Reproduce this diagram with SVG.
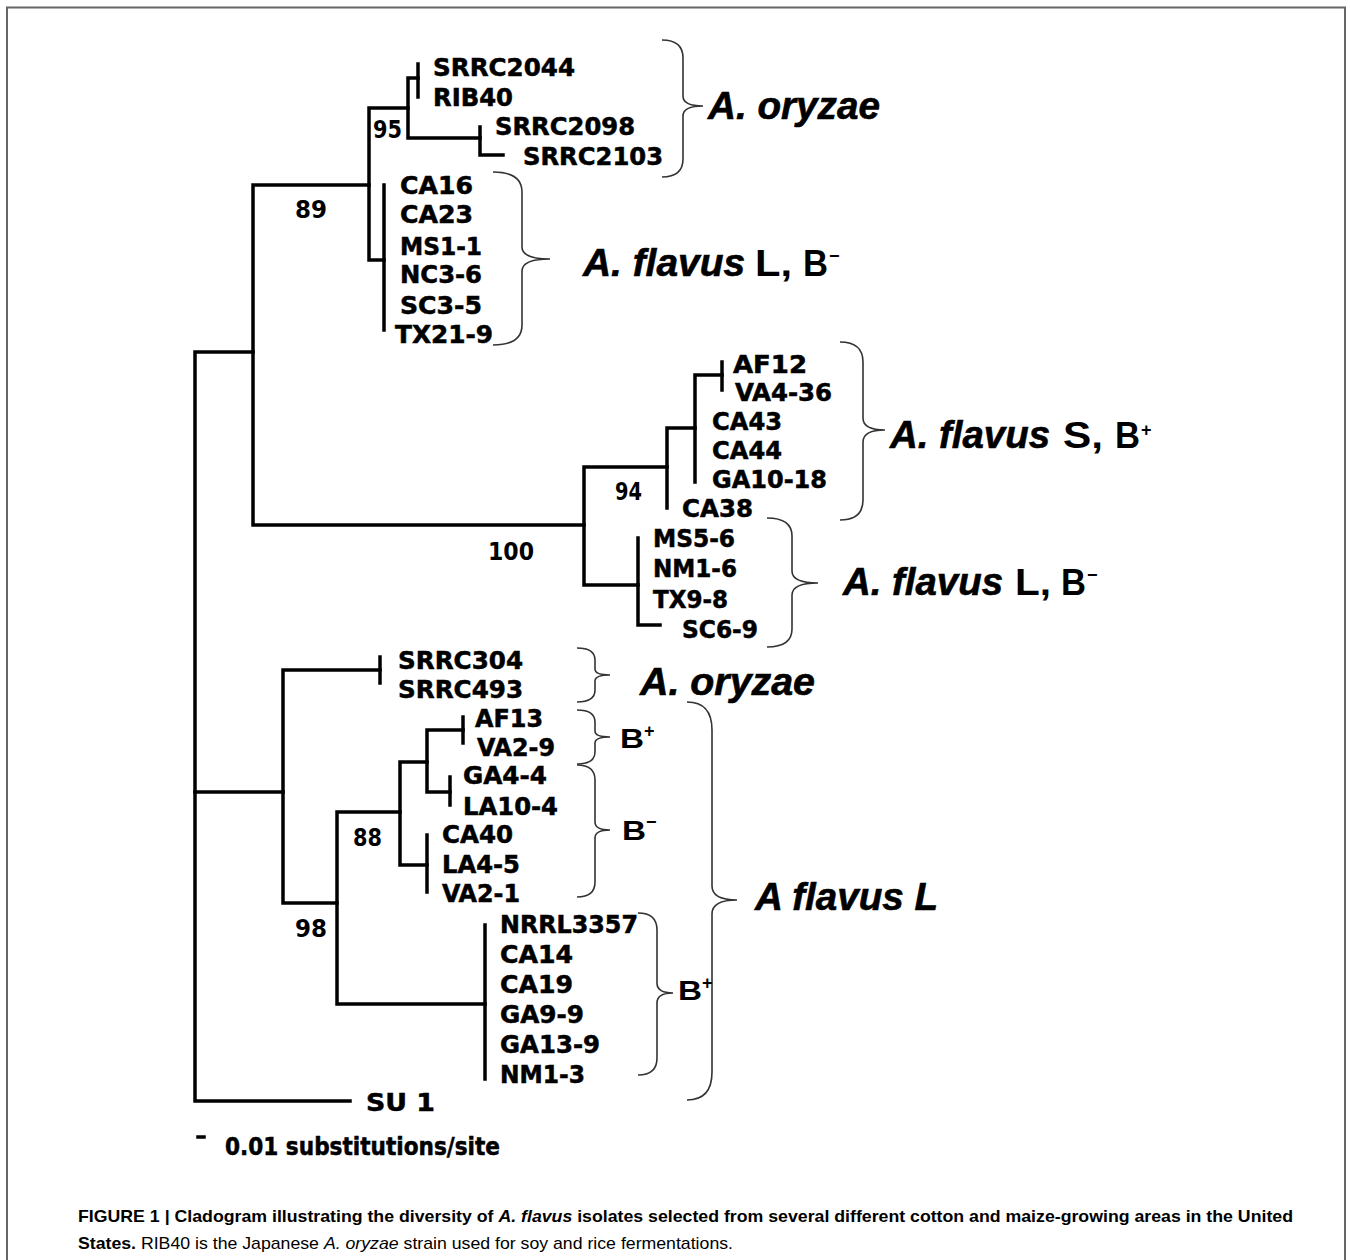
<svg xmlns="http://www.w3.org/2000/svg" width="1350" height="1260" viewBox="0 0 1350 1260">
<style>
.e{fill:none;stroke:#000;stroke-width:3.5;stroke-linejoin:miter;stroke-linecap:square}
.br{fill:none;stroke:#333;stroke-width:1.6}
.l{font-family:"Liberation Sans Narrow","DejaVu Sans Condensed","Liberation Sans",sans-serif;font-weight:bold;font-size:25px;fill:#000;stroke:#000;stroke-width:0.5}
.n{font-family:"Liberation Sans Narrow","DejaVu Sans Condensed","Liberation Sans",sans-serif;font-weight:bold;font-size:25px;fill:#000}
.big{font-family:"Liberation Sans","DejaVu Sans",sans-serif;font-weight:bold;font-style:italic;font-size:38px;fill:#000;stroke:#000;stroke-width:0.6}
.bu{font-family:"Liberation Sans","DejaVu Sans",sans-serif;font-weight:bold;font-size:36px;fill:#000}
.sup{font-family:"Liberation Sans","DejaVu Sans",sans-serif;font-weight:bold;font-size:18px;fill:#000}
.b{font-family:"Liberation Sans Narrow","Liberation Sans",sans-serif;font-weight:bold;font-size:28px;fill:#000}
.cap{font-family:"Liberation Sans Narrow","Liberation Sans",sans-serif;font-size:17px;fill:#000}
</style>
<rect width="1350" height="1260" fill="#fff"/>
<path d="M7,1262 V7.5 H1345 V1262" fill="none" stroke="#666" stroke-width="2"/>

<g id="connectors">
<path class="e" d="M253,352 H195 V1101 H350"/>
<path class="e" d="M195,792 H283"/>
<path class="e" d="M369,185 H253 V525 H584"/>
<path class="e" d="M408,108 H369 V260 H384"/>
<path class="e" d="M384,185 V330"/>
<path class="e" d="M418,78 H408 V138 H480"/>
<path class="e" d="M418,64 V97"/>
<path class="e" d="M480,127 V155 H503"/>
<path class="e" d="M667,467 H584 V585 H638"/>
<path class="e" d="M695,428 H667 V508"/>
<path class="e" d="M722,375 H695 V482"/>
<path class="e" d="M722,362 V390"/>
<path class="e" d="M638,538 V625 H660"/>
<path class="e" d="M380,670 H283 V903 H337"/>
<path class="e" d="M380,657 V683"/>
<path class="e" d="M400,812 H337 V1004 H485"/>
<path class="e" d="M427,762 H400 V865 H427"/>
<path class="e" d="M463,730 H427 V792 H450"/>
<path class="e" d="M463,717 V743"/>
<path class="e" d="M450,777 V805"/>
<path class="e" d="M427,835 V892"/>
<path class="e" d="M485,925 V1079"/>
<path class="e" d="M198,1137 H204"/>
</g>

<g id="braces">
<path class="br" d="M662,40 Q683,40 683,58 V96 Q683,106 703,106 Q683,106 683,116 V159 Q683,177 662,177"/>
<path class="br" d="M493,172 Q522,172 522,192 V247 Q522,259 550,259 Q522,259 522,271 V325 Q522,345 493,345"/>
<path class="br" d="M840,342 Q863,342 863,362 V418 Q863,430 885,430 Q863,430 863,442 V500 Q863,520 840,520"/>
<path class="br" d="M767,518 Q792,518 792,536 V571 Q792,583 818,583 Q792,583 792,595 V629 Q792,647 767,647"/>
<path class="br" d="M577,648 Q595,648 595,660 V669 Q595,675 610,675 Q595,675 595,681 V690 Q595,702 577,702"/>
<path class="br" d="M577,710 Q595,710 595,722 V731 Q595,737 610,737 Q595,737 595,743 V752 Q595,764 577,764"/>
<path class="br" d="M577,765 Q595,765 595,780 V822 Q595,830 610,830 Q595,830 595,838 V882 Q595,897 577,897"/>
<path class="br" d="M687,702 Q712,702 712,730 V886 Q712,900 737,900 Q712,900 712,914 V1072 Q712,1100 687,1100"/>
<path class="br" d="M638,913 Q657,913 657,930 V983 Q657,993 673,993 Q657,993 657,1003 V1058 Q657,1075 638,1075"/>
</g>

<g id="oryzae-top">
<text id="SRRC2044" class="l" x="433" y="76" textLength="142" lengthAdjust="spacingAndGlyphs">SRRC2044</text>
<text id="RIB40" class="l" x="433" y="106" textLength="80" lengthAdjust="spacingAndGlyphs">RIB40</text>
<text id="SRRC2098" class="l" x="495" y="135" textLength="140" lengthAdjust="spacingAndGlyphs">SRRC2098</text>
<text id="SRRC2103" class="l" x="523" y="165" textLength="140" lengthAdjust="spacingAndGlyphs">SRRC2103</text>
</g>
<g id="flavusL-top">
<text id="CA16" class="l" x="400" y="194" textLength="73" lengthAdjust="spacingAndGlyphs">CA16</text>
<text id="CA23" class="l" x="400" y="223" textLength="73" lengthAdjust="spacingAndGlyphs">CA23</text>
<text id="MS1-1" class="l" x="400" y="255" textLength="82" lengthAdjust="spacingAndGlyphs">MS1-1</text>
<text id="NC3-6" class="l" x="400" y="283" textLength="82" lengthAdjust="spacingAndGlyphs">NC3-6</text>
<text id="SC3-5" class="l" x="400" y="314" textLength="82" lengthAdjust="spacingAndGlyphs">SC3-5</text>
<text id="TX21-9" class="l" x="395" y="343" textLength="98" lengthAdjust="spacingAndGlyphs">TX21-9</text>
</g>
<g id="flavusS">
<text id="AF12" class="l" x="733" y="373" textLength="74" lengthAdjust="spacingAndGlyphs">AF12</text>
<text id="VA4-36" class="l" x="735" y="401" textLength="97" lengthAdjust="spacingAndGlyphs">VA4-36</text>
<text id="CA43" class="l" x="712" y="430" textLength="70" lengthAdjust="spacingAndGlyphs">CA43</text>
<text id="CA44" class="l" x="712" y="459" textLength="70" lengthAdjust="spacingAndGlyphs">CA44</text>
<text id="GA10-18" class="l" x="712" y="488" textLength="115" lengthAdjust="spacingAndGlyphs">GA10-18</text>
<text id="CA38" class="l" x="682" y="517" textLength="71" lengthAdjust="spacingAndGlyphs">CA38</text>
</g>
<g id="flavusL-mid">
<text id="MS5-6" class="l" x="653" y="547" textLength="82" lengthAdjust="spacingAndGlyphs">MS5-6</text>
<text id="NM1-6" class="l" x="653" y="577" textLength="84" lengthAdjust="spacingAndGlyphs">NM1-6</text>
<text id="TX9-8" class="l" x="653" y="608" textLength="75" lengthAdjust="spacingAndGlyphs">TX9-8</text>
<text id="SC6-9" class="l" x="682" y="638" textLength="76" lengthAdjust="spacingAndGlyphs">SC6-9</text>
</g>
<g id="oryzae-low">
<text id="SRRC304" class="l" x="398" y="669" textLength="125" lengthAdjust="spacingAndGlyphs">SRRC304</text>
<text id="SRRC493" class="l" x="398" y="698" textLength="125" lengthAdjust="spacingAndGlyphs">SRRC493</text>
</g>
<g id="flavusL-low">
<text id="AF13" class="l" x="475" y="727" textLength="68" lengthAdjust="spacingAndGlyphs">AF13</text>
<text id="VA2-9" class="l" x="477" y="756" textLength="78" lengthAdjust="spacingAndGlyphs">VA2-9</text>
<text id="GA4-4" class="l" x="463" y="784" textLength="84" lengthAdjust="spacingAndGlyphs">GA4-4</text>
<text id="LA10-4" class="l" x="463" y="815" textLength="95" lengthAdjust="spacingAndGlyphs">LA10-4</text>
<text id="CA40" class="l" x="442" y="843" textLength="71" lengthAdjust="spacingAndGlyphs">CA40</text>
<text id="LA4-5" class="l" x="442" y="873" textLength="78" lengthAdjust="spacingAndGlyphs">LA4-5</text>
<text id="VA2-1" class="l" x="442" y="902" textLength="78" lengthAdjust="spacingAndGlyphs">VA2-1</text>
<text id="NRRL3357" class="l" x="500" y="933" textLength="138" lengthAdjust="spacingAndGlyphs">NRRL3357</text>
<text id="CA14" class="l" x="500" y="963" textLength="73" lengthAdjust="spacingAndGlyphs">CA14</text>
<text id="CA19" class="l" x="500" y="993" textLength="73" lengthAdjust="spacingAndGlyphs">CA19</text>
<text id="GA9-9" class="l" x="500" y="1023" textLength="84" lengthAdjust="spacingAndGlyphs">GA9-9</text>
<text id="GA13-9" class="l" x="500" y="1053" textLength="100" lengthAdjust="spacingAndGlyphs">GA13-9</text>
<text id="NM1-3" class="l" x="500" y="1083" textLength="85" lengthAdjust="spacingAndGlyphs">NM1-3</text>
</g>
<g id="outgroup">
<text id="SU1" class="l" x="366" y="1111" textLength="69" lengthAdjust="spacingAndGlyphs">SU 1</text>
</g>

<g id="bootstrap">
<text class="n" x="373" y="138" textLength="29" lengthAdjust="spacingAndGlyphs">95</text>
<text class="n" x="295" y="218" textLength="32" lengthAdjust="spacingAndGlyphs">89</text>
<text class="n" x="615" y="500" textLength="27" lengthAdjust="spacingAndGlyphs">94</text>
<text class="n" x="488" y="560" textLength="46" lengthAdjust="spacingAndGlyphs">100</text>
<text class="n" x="353" y="846" textLength="29" lengthAdjust="spacingAndGlyphs">88</text>
<text class="n" x="295" y="937" textLength="32" lengthAdjust="spacingAndGlyphs">98</text>
</g>

<g id="group-labels">
<text class="big" x="708" y="119" textLength="172" lengthAdjust="spacingAndGlyphs">A. oryzae</text>
<g id="lab-flavusL-top">
<text class="big" x="583" y="276" textLength="162" lengthAdjust="spacingAndGlyphs">A. flavus</text>
<text class="bu" x="755" y="276" textLength="37" lengthAdjust="spacingAndGlyphs">L,</text>
<text class="bu" x="803" y="276" textLength="25" lengthAdjust="spacingAndGlyphs">B</text>
<text class="sup" x="829" y="262">−</text>
</g>
<g id="lab-flavusS">
<text class="big" x="890" y="448" textLength="160" lengthAdjust="spacingAndGlyphs">A. flavus</text>
<text class="bu" x="1063" y="448" textLength="40" lengthAdjust="spacingAndGlyphs">S,</text>
<text class="bu" x="1115" y="448" textLength="25" lengthAdjust="spacingAndGlyphs">B</text>
<text class="sup" x="1141" y="436">+</text>
</g>
<g id="lab-flavusL-mid">
<text class="big" x="843" y="595" textLength="160" lengthAdjust="spacingAndGlyphs">A. flavus</text>
<text class="bu" x="1015" y="595" textLength="36" lengthAdjust="spacingAndGlyphs">L,</text>
<text class="bu" x="1061" y="595" textLength="25" lengthAdjust="spacingAndGlyphs">B</text>
<text class="sup" x="1087" y="581">−</text>
</g>
<text class="big" x="640" y="695" textLength="175" lengthAdjust="spacingAndGlyphs">A. oryzae</text>
<text class="big" x="755" y="910" textLength="183" lengthAdjust="spacingAndGlyphs">A flavus L</text>
<g id="lab-Bplus1"><text class="b" x="620" y="748" textLength="24" lengthAdjust="spacingAndGlyphs">B</text><text class="sup" x="644" y="737" font-size="14">+</text></g>
<g id="lab-Bminus"><text class="b" x="622" y="840" textLength="24" lengthAdjust="spacingAndGlyphs">B</text><text class="sup" x="646" y="828" font-size="14">−</text></g>
<g id="lab-Bplus2"><text class="b" x="678" y="1000" textLength="24" lengthAdjust="spacingAndGlyphs">B</text><text class="sup" x="702" y="989" font-size="14">+</text></g>
</g>

<g id="scale">
<text class="l" x="225" y="1155" textLength="275" lengthAdjust="spacingAndGlyphs">0.01 substitutions/site</text>
</g>

<g id="caption">
<text class="cap" x="78" y="1222" font-weight="bold" textLength="1215" lengthAdjust="spacingAndGlyphs">FIGURE 1 | Cladogram illustrating the diversity of <tspan font-style="italic">A. flavus</tspan> isolates selected from several different cotton and maize-growing areas in the United</text>
<text class="cap" x="78" y="1249" textLength="655" lengthAdjust="spacingAndGlyphs"><tspan font-weight="bold">States.</tspan> RIB40 is the Japanese <tspan font-style="italic">A. oryzae</tspan> strain used for soy and rice fermentations.</text>
</g>
</svg>
